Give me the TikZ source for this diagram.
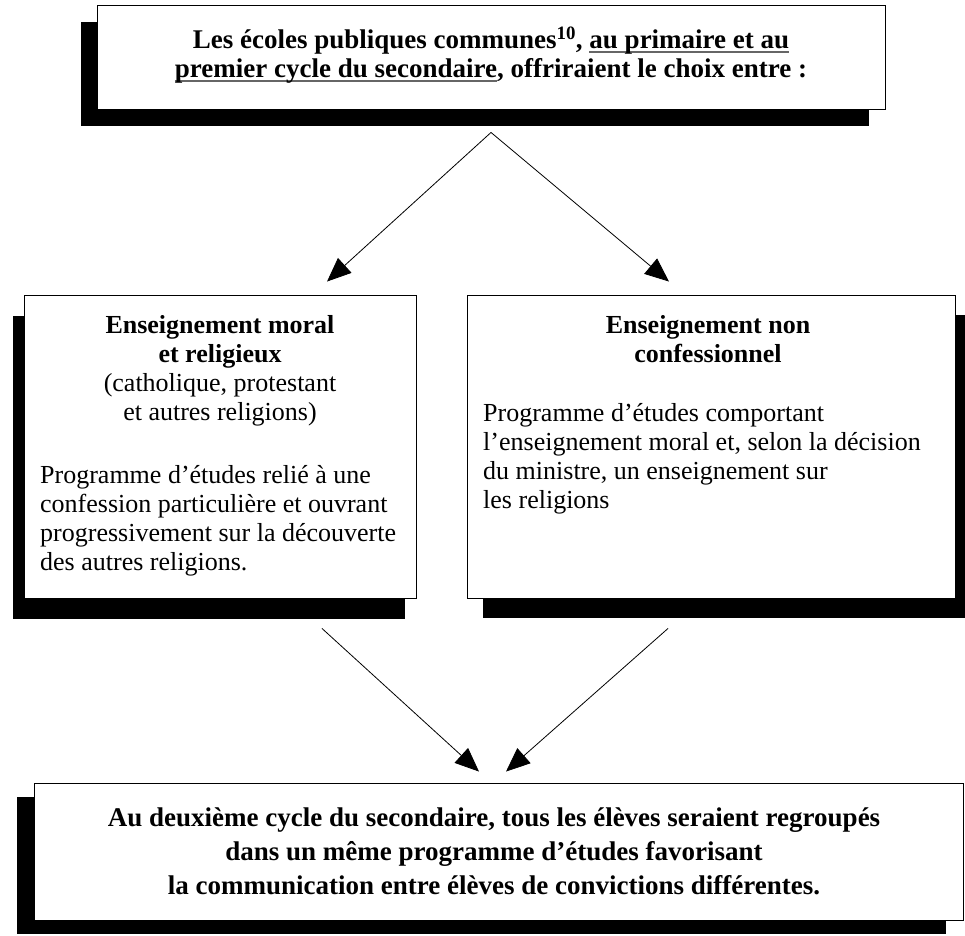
\documentclass[tikz,border=0pt]{standalone}
\usepackage{fontspec}
\setmainfont{Liberation Serif}
\usetikzlibrary{arrows.meta,shadows}
\newsavebox\myulbox
\newcommand{\myul}[1]{\sbox\myulbox{#1}\rlap{\color{black!60}\rule[-3.8pt]{\wd\myulbox}{1.3pt}}\usebox\myulbox}
\begin{document}
\begin{tikzpicture}[x=1pt,y=-1pt,
  box/.style={draw=black, line width=0.9pt, fill=white, inner sep=0pt},
  dropshadow/.style 2 args={general shadow={fill=black, shadow xshift=#1, shadow yshift=#2}},
  boldtxt/.style={font=\bfseries\fontsize{27pt}{29pt}\selectfont, align=center, inner sep=0pt},
  bottxt/.style={font=\bfseries\fontsize{27pt}{34pt}\selectfont, align=center, inner sep=0pt},
  midtxt/.style={font=\fontsize{26pt}{29pt}\selectfont, inner sep=0pt},
  arr/.style={-{Triangle[length=24pt,width=20pt]}, line width=0.8pt}
]
\useasboundingbox (0,0) rectangle (965,935);
\fill[white] (0,0) rectangle (965,935);

% boxes
\node[box, dropshadow={-16pt}{-17pt}, minimum width=788pt, minimum height=104pt] (topbox) at (491,57) {};
\node[box, dropshadow={-11pt}{-21pt}, minimum width=392pt, minimum height=303pt] (leftbox) at (220,446.5) {};
\node[box, dropshadow={16pt}{-20pt}, minimum width=488pt, minimum height=303pt] (rightbox) at (711,446.5) {};
\node[box, dropshadow={-17pt}{-14pt}, minimum width=929pt, minimum height=137pt] (bottombox) at (498.5,851.5) {};

% texts
\node[boldtxt, anchor=north] (toptext) at (491,27)
  {Les écoles publiques communes\textsuperscript{10}, \myul{au primaire et au}\\
   \myul{premier cycle du secondaire}, offriraient le choix entre~:};

\node[midtxt, anchor=north, align=center] (lefthead) at (220,315)
  {\textbf{Enseignement moral}\\\textbf{et religieux}\\(catholique, protestant\\et autres religions)};
\node[midtxt, anchor=north west, align=left] (leftpara) at (40,465)
  {Programme d’études relié à une\\confession particulière et ouvrant\\progressivement sur la découverte\\des autres religions.};

\node[midtxt, anchor=north, align=center] (righthead) at (708,315)
  {\textbf{Enseignement non}\\\textbf{confessionnel}};
\node[midtxt, anchor=north west, align=left] (rightpara) at (483,403)
  {Programme d’études comportant\\l’enseignement moral et, selon la décision\\du ministre, un enseignement sur\\les religions};

\node[bottxt, anchor=north] (bottext) at (494,808)
  {Au deuxième cycle du secondaire, tous les élèves seraient regroupés\\
   dans un même programme d’études favorisant\\
   la communication entre élèves de convictions différentes.};

% connectors
\coordinate (apex) at ([yshift=-23pt]topbox.south);
\draw[arr] (apex) -- ([xshift=107pt,yshift=13pt]leftbox.north);
\draw[arr] (apex) -- ([xshift=-42pt,yshift=13pt]rightbox.north);
\draw[arr] ([xshift=102pt,yshift=-30pt]leftbox.south) -- ([xshift=-19.5pt,yshift=11pt]bottombox.north);
\draw[arr] ([xshift=-43pt,yshift=-30pt]rightbox.south) -- ([xshift=7.5pt,yshift=11pt]bottombox.north);
\end{tikzpicture}
\end{document}
